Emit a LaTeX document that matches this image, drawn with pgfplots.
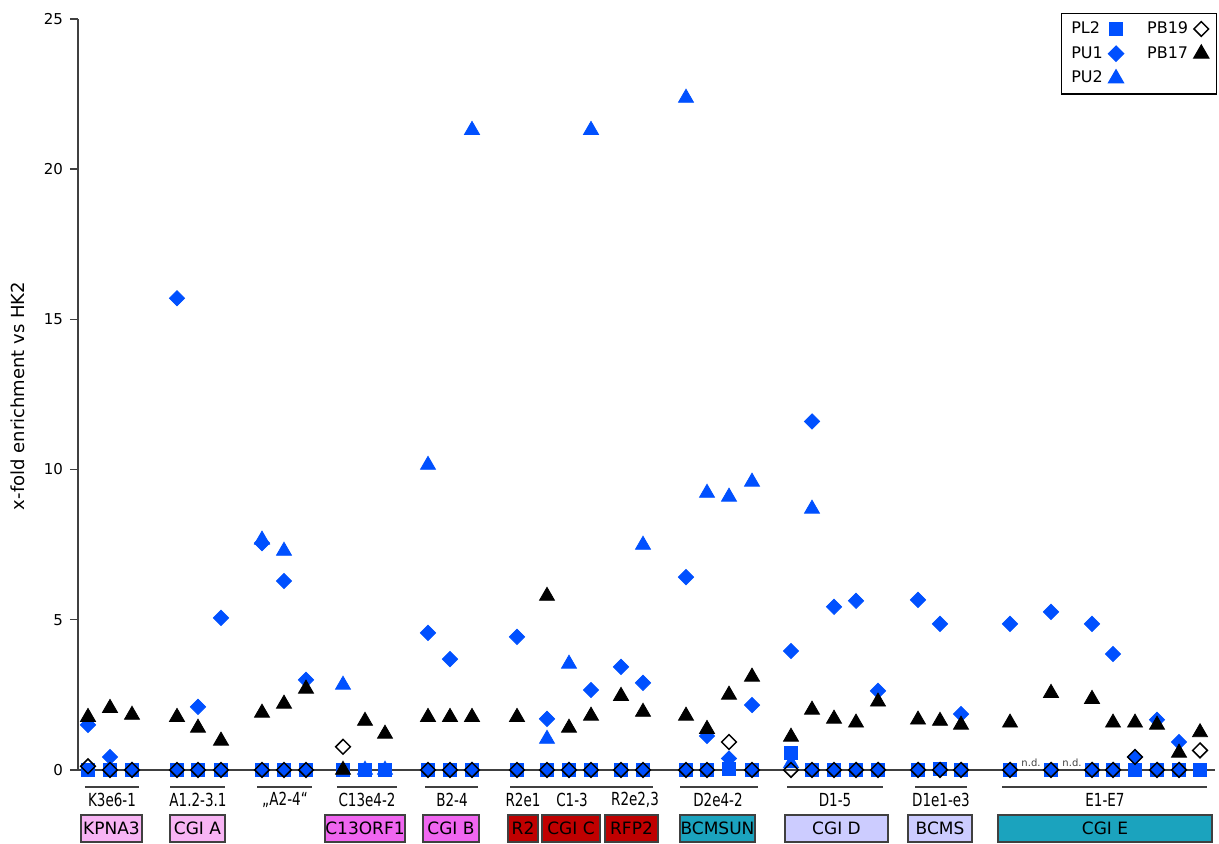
\documentclass[border=0pt]{standalone}
\usepackage{pgfplots}
\pgfplotsset{compat=1.18}
\usepackage{fontspec}
\setmainfont{DejaVu Sans}
\newfontfamily\condfont[FakeStretch=0.75]{DejaVu Sans}
\definecolor{mblue}{HTML}{0050FF}
\definecolor{lpink}{HTML}{F8B4F4}
\definecolor{mag}{HTML}{F066F0}
\definecolor{dred}{HTML}{C00000}
\definecolor{teal2}{HTML}{1BA3BE}
\definecolor{lav}{HTML}{CCCCFF}
\definecolor{axgray}{HTML}{404040}
\begin{document}
\begin{tikzpicture}
\begin{axis}[
  scale only axis, width=568.5pt, height=375.5pt,
  xmin=78, xmax=1215, ymin=0, ymax=25,
  axis x line=bottom, axis y line=left,
  axis line style={-, axgray, line width=0.7pt},
  xtick=\empty, ytick={0,5,...,25},
  tick align=outside, major tick length=4pt,
  y tick style={axgray, line width=0.7pt},
  yticklabel style={font=\fontsize{7.5}{9}\selectfont},
  /pgf/number format/assume math mode=true,
  clip=false,
  legend style={at={(axis cs:1217,25.2)}, anchor=north east, draw=black, line width=0.6pt,
    font=\fontsize{8}{10}\selectfont, inner xsep=3pt, inner ysep=2pt, row sep=1pt,
    /tikz/every odd column/.style={column sep=0pt},
    /tikz/every even column/.style={column sep=9pt}},
  legend columns=2, legend plot pos=right, legend cell align=left,
  legend image code/.code={\draw[#1] plot coordinates {(0.15cm,0cm)}; \path (0cm,0cm) (0.3cm,0cm);},
]
% PL2
\addplot[only marks, mark=square*, mark size=3.25pt, mblue, forget plot] coordinates {
(88,0)(110,0)(132,0)(177,0)(198,0)(221,0)(262,0)(284,0)(306,0)(343,0)(365,0)(385,0)
(428,0)(450,0)(472,0)(517,0)(547,0)(569,0)(591,0)(621,0)(643,0)(686,0)(707,0)(729,0.03)
(752,0)(791,0.57)(812,0)(834,0)(856,0)(878,0)(918,0)(940,0.05)(961,0)(1010,0)(1051,0)
(1092,0)(1113,0)(1135,0)(1157,0)(1179,0)(1200,0)};
% PU1
\addplot[only marks, mark=square*, mark size=2.7pt, mark options={rotate=45}, mblue, forget plot] coordinates {
(88,1.5)(110,0.43)(132,0)(177,15.7)(198,2.1)(221,5.06)(262,7.55)(284,6.29)(306,3.0)
(428,4.56)(450,3.69)(472,0)(517,4.43)(547,1.7)(569,0)(591,2.66)(621,3.43)(643,2.9)
(686,6.42)(707,1.13)(729,0.38)(752,2.16)(791,3.96)(812,11.6)(834,5.43)(856,5.63)(878,2.63)
(918,5.66)(940,4.86)(961,1.86)(1010,4.86)(1051,5.26)(1092,4.86)(1113,3.86)(1135,0.43)
(1157,1.67)(1179,0.93)};
% PU2
\addplot[only marks, mark=triangle*, mark size=4.33pt, mblue, forget plot] coordinates {
(262,7.66)(284,7.29)(343,2.83)(365,0)(385,0)(428,10.15)(472,21.3)(547,1.03)(569,3.53)
(591,21.3)(643,7.49)(686,22.37)(707,9.22)(729,9.09)(752,9.59)(791,0.22)(812,8.69)};
% PB19
\addplot[only marks, mark=square, mark size=2.6pt, mark options={rotate=45, fill=none, draw=black, line width=0.75pt}, black, forget plot] coordinates {
(88,0.12)(110,0)(132,0)(177,0)(198,0)(221,0)(262,0)(284,0)(306,0)(343,0.77)(428,0)(450,0)
(472,0)(517,0)(547,0)(569,0)(591,0)(621,0)(643,0)(686,0)(707,0)(729,0.93)(752,0)(791,0)
(812,0)(834,0)(856,0)(878,0)(918,0)(940,0)(961,0)(1010,0)(1051,0)(1092,0)(1113,0)
(1135,0.43)(1157,0)(1179,0)(1200,0.65)};
% PB17
\addplot[only marks, mark=triangle*, mark size=4.33pt, black, forget plot] coordinates {
(88,1.76)(110,2.06)(132,1.83)(177,1.76)(198,1.4)(221,0.97)(262,1.9)(284,2.2)(306,2.7)
(343,0)(365,1.63)(385,1.2)(428,1.76)(450,1.76)(472,1.76)(517,1.76)(547,5.79)(569,1.4)
(591,1.8)(621,2.46)(643,1.93)(686,1.8)(707,1.36)(729,2.5)(752,3.1)(791,1.1)(812,2.0)
(834,1.7)(856,1.57)(878,2.27)(918,1.67)(940,1.63)(961,1.5)(1010,1.57)(1051,2.56)
(1092,2.36)(1113,1.57)(1135,1.57)(1157,1.5)(1179,0.57)(1200,1.25)};
% legend (order: row-wise for two columns)
\addlegendimage{only marks, mark=square*, mark size=3.25pt, mblue}
\addlegendentry{PL2}
\addlegendimage{only marks, mark=square, mark size=2.6pt, mark options={rotate=45, fill=none, draw=black, line width=0.75pt}, black}
\addlegendentry{PB19}
\addlegendimage{only marks, mark=square*, mark size=2.7pt, mark options={rotate=45}, mblue}
\addlegendentry{PU1}
\addlegendimage{only marks, mark=triangle*, mark size=4.33pt, black}
\addlegendentry{PB17}
\addlegendimage{only marks, mark=triangle*, mark size=4.33pt, mblue}
\addlegendentry{PU2}
% n.d.
\node[font=\fontsize{5}{6}\selectfont, axgray] at (axis cs:1031,0.25) {n.d.};
\node[font=\fontsize{5}{6}\selectfont, axgray] at (axis cs:1072,0.25) {n.d.};
% y label
\node[rotate=90, font=\fontsize{9}{10}\selectfont] at (axis cs:18,12.45) {x-fold enrichment vs HK2};
% overlines and region labels
\draw[axgray, line width=0.9pt] (axis cs:85,-0.57) -- (axis cs:139,-0.57);
\draw[axgray, line width=0.9pt] (axis cs:170,-0.57) -- (axis cs:225,-0.57);
\draw[axgray, line width=0.9pt] (axis cs:257,-0.57) -- (axis cs:312,-0.57);
\draw[axgray, line width=0.9pt] (axis cs:337,-0.57) -- (axis cs:397,-0.57);
\draw[axgray, line width=0.9pt] (axis cs:425,-0.57) -- (axis cs:478,-0.57);
\draw[axgray, line width=0.9pt] (axis cs:510,-0.57) -- (axis cs:653,-0.57);
\draw[axgray, line width=0.9pt] (axis cs:680,-0.57) -- (axis cs:758,-0.57);
\draw[axgray, line width=0.9pt] (axis cs:787,-0.57) -- (axis cs:883,-0.57);
\draw[axgray, line width=0.9pt] (axis cs:915,-0.57) -- (axis cs:967,-0.57);
\draw[axgray, line width=0.9pt] (axis cs:1002,-0.57) -- (axis cs:1207,-0.57);
\node[font=\condfont\fontsize{9}{10}\selectfont, inner sep=0pt] at (axis cs:112,-1.0) {K3e6-1};
\node[font=\condfont\fontsize{9}{10}\selectfont, inner sep=0pt] at (axis cs:198,-1.0) {A1.2-3.1};
\node[font=\condfont\fontsize{9}{10}\selectfont, inner sep=0pt] at (axis cs:285,-1.0) {„A2-4“};
\node[font=\condfont\fontsize{9}{10}\selectfont, inner sep=0pt] at (axis cs:367,-1.0) {C13e4-2};
\node[font=\condfont\fontsize{9}{10}\selectfont, inner sep=0pt] at (axis cs:452,-1.0) {B2-4};
\node[font=\condfont\fontsize{9}{10}\selectfont, inner sep=0pt] at (axis cs:523,-1.0) {R2e1};
\node[font=\condfont\fontsize{9}{10}\selectfont, inner sep=0pt] at (axis cs:572,-1.0) {C1-3};
\node[font=\condfont\fontsize{9}{10}\selectfont, inner sep=0pt] at (axis cs:635,-1.0) {R2e2,3};
\node[font=\condfont\fontsize{9}{10}\selectfont, inner sep=0pt] at (axis cs:718,-1.0) {D2e4-2};
\node[font=\condfont\fontsize{9}{10}\selectfont, inner sep=0pt] at (axis cs:835,-1.0) {D1-5};
\node[font=\condfont\fontsize{9}{10}\selectfont, inner sep=0pt] at (axis cs:941,-1.0) {D1e1-e3};
\node[font=\condfont\fontsize{9}{10}\selectfont, inner sep=0pt] at (axis cs:1105,-1.0) {E1-E7};
% boxes
\filldraw[fill=lpink, draw=axgray, line width=0.7pt] (axis cs:81,-1.498) rectangle (axis cs:142,-2.397);
\node[font=\fontsize{8.5}{9}\selectfont, inner sep=0pt] at (axis cs:111.5,-1.95) {KPNA3};
\filldraw[fill=lpink, draw=axgray, line width=0.7pt] (axis cs:170,-1.498) rectangle (axis cs:225,-2.397);
\node[font=\fontsize{8.5}{9}\selectfont, inner sep=0pt] at (axis cs:197.5,-1.95) {CGI A};
\filldraw[fill=mag, draw=axgray, line width=0.7pt] (axis cs:325,-1.498) rectangle (axis cs:405,-2.397);
\node[font=\fontsize{8.5}{9}\selectfont, inner sep=0pt] at (axis cs:365,-1.95) {C13ORF1};
\filldraw[fill=mag, draw=axgray, line width=0.7pt] (axis cs:423,-1.498) rectangle (axis cs:479,-2.397);
\node[font=\fontsize{8.5}{9}\selectfont, inner sep=0pt] at (axis cs:451,-1.95) {CGI B};
\filldraw[fill=dred, draw=axgray, line width=0.7pt] (axis cs:508,-1.498) rectangle (axis cs:538,-2.397);
\node[font=\fontsize{8.5}{9}\selectfont, inner sep=0pt] at (axis cs:523,-1.95) {R2};
\filldraw[fill=dred, draw=axgray, line width=0.7pt] (axis cs:542,-1.498) rectangle (axis cs:600,-2.397);
\node[font=\fontsize{8.5}{9}\selectfont, inner sep=0pt] at (axis cs:571,-1.95) {CGI C};
\filldraw[fill=dred, draw=axgray, line width=0.7pt] (axis cs:605,-1.498) rectangle (axis cs:658,-2.397);
\node[font=\fontsize{8.5}{9}\selectfont, inner sep=0pt] at (axis cs:631.5,-1.95) {RFP2};
\filldraw[fill=teal2, draw=axgray, line width=0.7pt] (axis cs:680,-1.498) rectangle (axis cs:755,-2.397);
\node[font=\fontsize{8.5}{9}\selectfont, inner sep=0pt] at (axis cs:717.5,-1.95) {BCMSUN};
\filldraw[fill=lav, draw=axgray, line width=0.7pt] (axis cs:785,-1.498) rectangle (axis cs:888,-2.397);
\node[font=\fontsize{8.5}{9}\selectfont, inner sep=0pt] at (axis cs:836.5,-1.95) {CGI D};
\filldraw[fill=lav, draw=axgray, line width=0.7pt] (axis cs:908,-1.498) rectangle (axis cs:972,-2.397);
\node[font=\fontsize{8.5}{9}\selectfont, inner sep=0pt] at (axis cs:940,-1.95) {BCMS};
\filldraw[fill=teal2, draw=axgray, line width=0.7pt] (axis cs:998,-1.498) rectangle (axis cs:1212,-2.397);
\node[font=\fontsize{8.5}{9}\selectfont, inner sep=0pt] at (axis cs:1105,-1.95) {CGI E};
% page extent
\path (axis cs:0,25.63) rectangle (axis cs:1219,-2.463);
\end{axis}
\end{tikzpicture}
\end{document}
